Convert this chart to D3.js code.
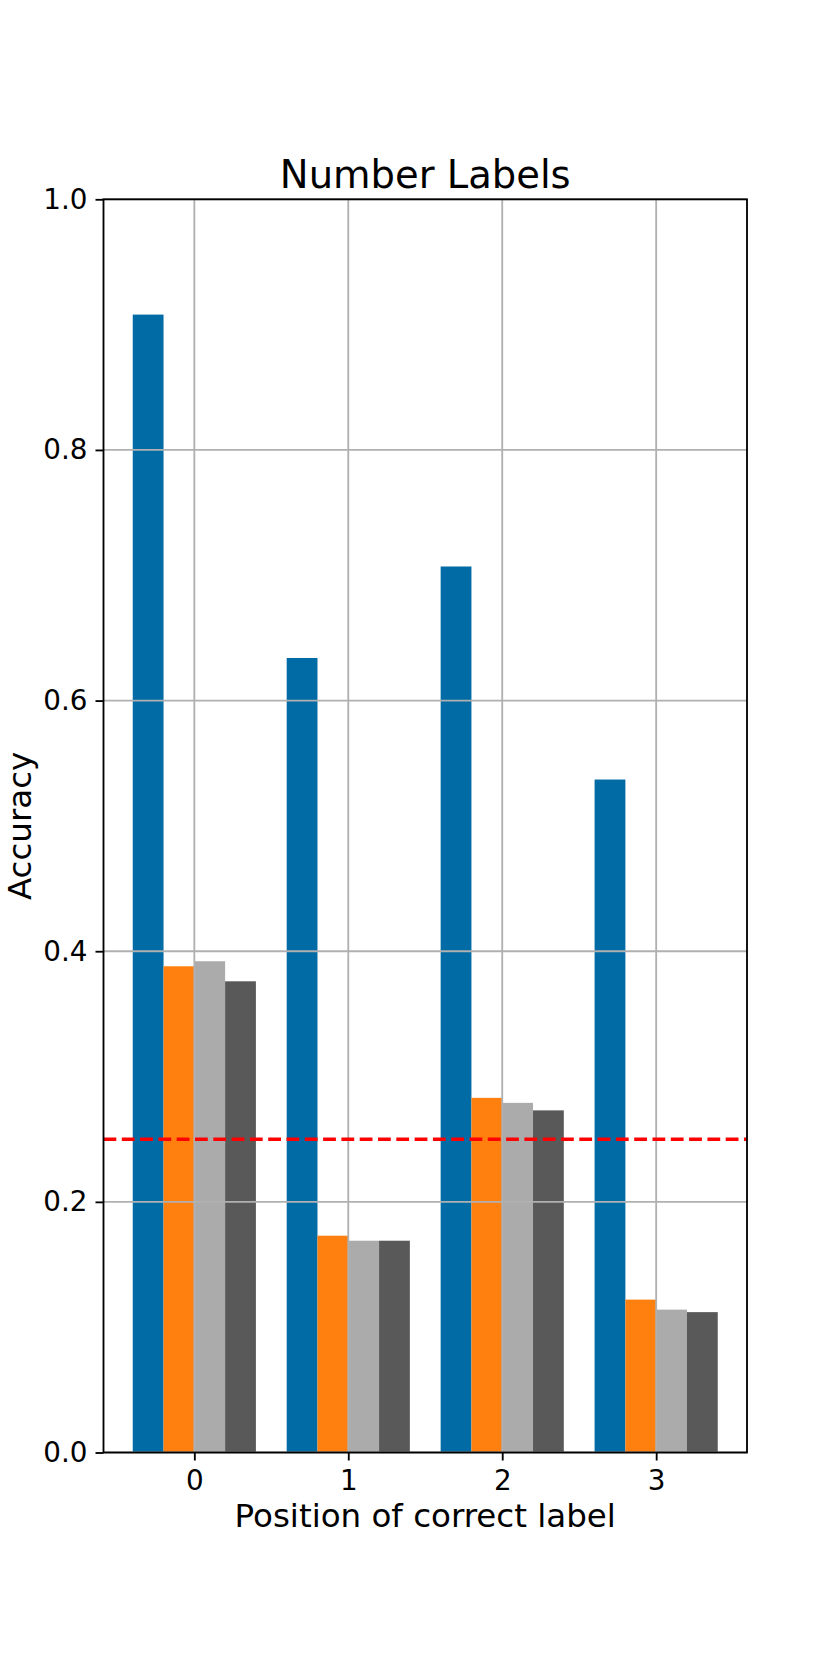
<!DOCTYPE html>
<html>
<head>
<meta charset="utf-8">
<script src="https://cdn.jsdelivr.net/npm/d3@7"></script>
<style>
  html, body { margin: 0; padding: 0; background: #ffffff; }
  svg { display: block; }
  text { font-family: "DejaVu Sans", sans-serif; fill: #000; }
</style>
</head>
<body>
<div id="chart"></div>
<script>
// ---- data ----
const categories = ["0", "1", "2", "3"];
const seriesNames = ["Series 1", "Series 2", "Series 3", "Series 4"];
const series1 = [0.908, 0.634, 0.707, 0.537];
const series2 = [0.388, 0.173, 0.283, 0.122];
const series3 = [0.392, 0.169, 0.279, 0.114];
const series4 = [0.376, 0.169, 0.273, 0.112];
const seriesColors = ["#006BA4", "#FF800E", "#ABABAB", "#595959"];
const chanceLevel = 0.25;
const yTickValues = [0, 0.2, 0.4, 0.6, 0.8, 1.0];
const yTickLabels = ["0.0", "0.2", "0.4", "0.6", "0.8", "1.0"];
const titleText = "Number Labels";
const xLabelText = "Position of correct label";
const yLabelText = "Accuracy";

const allSeries = [series1, series2, series3, series4];

// ---- layout ----
const W = 830, H = 1661;
const plot = { left: 103.5, right: 747, top: 199.3, bottom: 1452.5 };
const barW = 0.2;

const svg = d3.select("#chart").append("svg")
  .attr("width", W).attr("height", H);
svg.append("rect").attr("width", W).attr("height", H).attr("fill", "#ffffff");

const x = d3.scaleLinear().domain([-0.59, 3.59]).range([plot.left, plot.right]);
const y = d3.scaleLinear().domain([0, 1]).range([plot.bottom, plot.top]);

// bars
const barsG = svg.append("g");
allSeries.forEach((vals, si) => {
  barsG.selectAll(null).data(vals).enter().append("rect")
    .attr("x", (d, i) => x(i - 0.4 + si * barW))
    .attr("width", (d, i) => x(i - 0.4 + (si + 1) * barW) - x(i - 0.4 + si * barW))
    .attr("y", d => y(d))
    .attr("height", d => y(0) - y(d))
    .attr("fill", seriesColors[si]);
});

// grid (above bars, like matplotlib default)
const gridG = svg.append("g");
gridG.selectAll(null).data(categories).enter().append("line")
  .attr("x1", (d, i) => x(i)).attr("x2", (d, i) => x(i))
  .attr("y1", plot.top).attr("y2", plot.bottom)
  .attr("stroke", "#b0b0b0").attr("stroke-width", 1.84);
gridG.selectAll(null).data(yTickValues).enter().append("line")
  .attr("x1", plot.left).attr("x2", plot.right)
  .attr("y1", d => y(d)).attr("y2", d => y(d))
  .attr("stroke", "#b0b0b0").attr("stroke-width", 1.84);

// chance line
svg.append("line")
  .attr("x1", plot.left).attr("x2", plot.right)
  .attr("y1", y(chanceLevel)).attr("y2", y(chanceLevel))
  .attr("stroke", "#ff0000").attr("stroke-width", 3.45)
  .attr("stroke-dasharray", "12.8,5.5");

// axes
const yAxis = d3.axisLeft(y).tickValues(yTickValues)
  .tickFormat((d, i) => yTickLabels[i]).tickSize(8).tickPadding(8);
const yg = svg.append("g").attr("transform", `translate(${plot.left},0)`).call(yAxis);
const xAxis = d3.axisBottom(x).tickValues(categories.map((c, i) => i))
  .tickFormat((d, i) => categories[i]).tickSize(8).tickPadding(8);
const xg = svg.append("g").attr("transform", `translate(0,${plot.bottom})`).call(xAxis);

[yg, xg].forEach(g => {
  g.select(".domain").remove();
  g.selectAll(".tick line").attr("stroke", "#000").attr("stroke-width", 1.84);
  g.selectAll(".tick text").attr("font-size", 27.8).attr("font-family", "DejaVu Sans").attr("fill", "#000");
});
xg.selectAll(".tick text").attr("dy", null)
  .attr("y", 1490 - plot.bottom);

// frame (spines)
svg.append("rect")
  .attr("x", plot.left).attr("y", plot.top)
  .attr("width", plot.right - plot.left).attr("height", plot.bottom - plot.top)
  .attr("fill", "none").attr("stroke", "#000").attr("stroke-width", 1.84);

// title and labels
svg.append("text").attr("x", (plot.left + plot.right) / 2).attr("y", 188.3)
  .attr("text-anchor", "middle").attr("font-size", 38.5).text(titleText);
svg.append("text").attr("x", (plot.left + plot.right) / 2).attr("y", 1527)
  .attr("text-anchor", "middle").attr("font-size", 32.5).text(xLabelText);
svg.append("text")
  .attr("transform", `translate(30.7,${(plot.top + plot.bottom) / 2}) rotate(-90)`)
  .attr("text-anchor", "middle").attr("font-size", 32.5).text(yLabelText);
</script>
</body>
</html>
